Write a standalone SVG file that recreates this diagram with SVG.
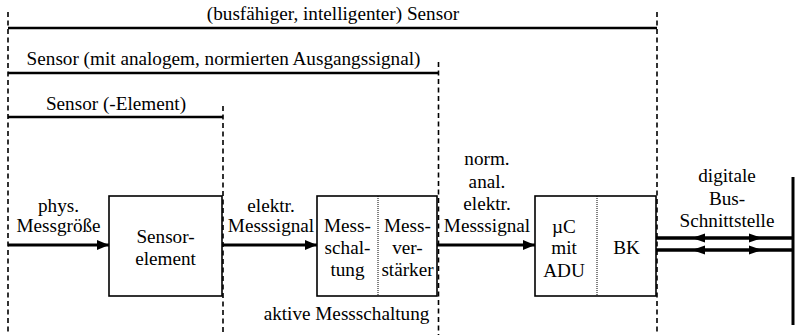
<svg xmlns="http://www.w3.org/2000/svg" width="796" height="335" viewBox="0 0 796 335">
<style>
text{font-family:'Liberation Serif','Times New Roman',Times,serif;font-size:19.2px;fill:#000;text-anchor:middle}
.box{fill:#fff;stroke:#000;stroke-width:1.6}
.div{stroke:#000;stroke-width:1;stroke-dasharray:1,1}
.dash{stroke:#000;stroke-width:1.6;stroke-dasharray:5,3.5;fill:none}
.brk{stroke:#000;stroke-width:2.6;fill:none}
.conn{stroke:#000;stroke-width:3;fill:none}
.bus{stroke:#000;stroke-width:3.5;fill:none}
</style>
<defs>
<marker id="arr" markerUnits="userSpaceOnUse" markerWidth="14" markerHeight="12" refX="12" refY="5" orient="auto">
<path d="M0,0 L12,5 L0,10 Z" fill="#000"/>
</marker>
<path id="ah" d="M0,0 L-13,-4.5 L-13,4.5 Z" fill="#000"/>
</defs>
<g id="scopes">
<line class="dash" x1="8" y1="12" x2="8" y2="335"/>
<line class="dash" x1="223" y1="106" x2="223" y2="335"/>
<line class="dash" x1="438.5" y1="62" x2="438.5" y2="335"/>
<line class="dash" x1="657" y1="12" x2="657" y2="335"/>
<line class="brk" x1="8" y1="28" x2="657" y2="28"/>
<line class="brk" x1="8" y1="73" x2="438.5" y2="73"/>
<line class="brk" x1="8" y1="117" x2="223" y2="117"/>
<text x="333" y="20">(busfähiger, intelligenter) Sensor</text>
<text x="223.5" y="65">Sensor (mit analogem, normierten Ausgangssignal)</text>
<text x="116" y="110">Sensor (-Element)</text>
</g>
<g id="sensorelement">
<rect class="box" x="109" y="196" width="113" height="100"/>
<text x="165.5" y="243">Sensor-</text>
<text x="165.5" y="265">element</text>
</g>
<g id="messschaltung">
<rect class="box" x="317" y="196" width="120" height="100"/>
<line class="div" x1="378" y1="196" x2="378" y2="296"/>
<text x="347.5" y="232">Mess-</text>
<text x="347.5" y="254">schal-</text>
<text x="347.5" y="276">tung</text>
<text x="407.5" y="232">Mess-</text>
<text x="407.5" y="254">ver-</text>
<text x="407.5" y="276">stärker</text>
<text x="346.5" y="320">aktive Messschaltung</text>
</g>
<g id="mikrocontroller">
<rect class="box" x="535" y="196" width="121" height="100"/>
<line class="div" x1="597" y1="196" x2="597" y2="296"/>
<text x="564" y="233">µC</text>
<text x="564" y="254">mit</text>
<text x="564" y="277">ADU</text>
<text x="626.5" y="254">BK</text>
</g>
<g id="connectors">
<line class="conn" x1="8" y1="245" x2="109" y2="245" marker-end="url(#arr)"/>
<text x="58.5" y="212">phys.</text>
<text x="58.5" y="232">Messgröße</text>
<line class="conn" x1="222" y1="245" x2="317" y2="245" marker-end="url(#arr)"/>
<text x="271" y="212">elektr.</text>
<text x="271" y="232">Messsignal</text>
<line class="conn" x1="437" y1="245" x2="535" y2="245" marker-end="url(#arr)"/>
<text x="487" y="165">norm.</text>
<text x="487" y="187.5">anal.</text>
<text x="487" y="210">elektr.</text>
<text x="487" y="232">Messsignal</text>
<line class="bus" x1="656" y1="238" x2="793" y2="238"/>
<line class="bus" x1="656" y1="250" x2="793" y2="250"/>
<use href="#ah" transform="translate(692,238) rotate(180)"/>
<use href="#ah" transform="translate(762,238)"/>
<use href="#ah" transform="translate(692,250) rotate(180)"/>
<use href="#ah" transform="translate(762,250)"/>
<line x1="793" y1="177" x2="793" y2="325" stroke="#000" stroke-width="3"/>
<text x="727" y="182">digitale</text>
<text x="727" y="204.5">Bus-</text>
<text x="727" y="227">Schnittstelle</text>
</g>
</svg>
